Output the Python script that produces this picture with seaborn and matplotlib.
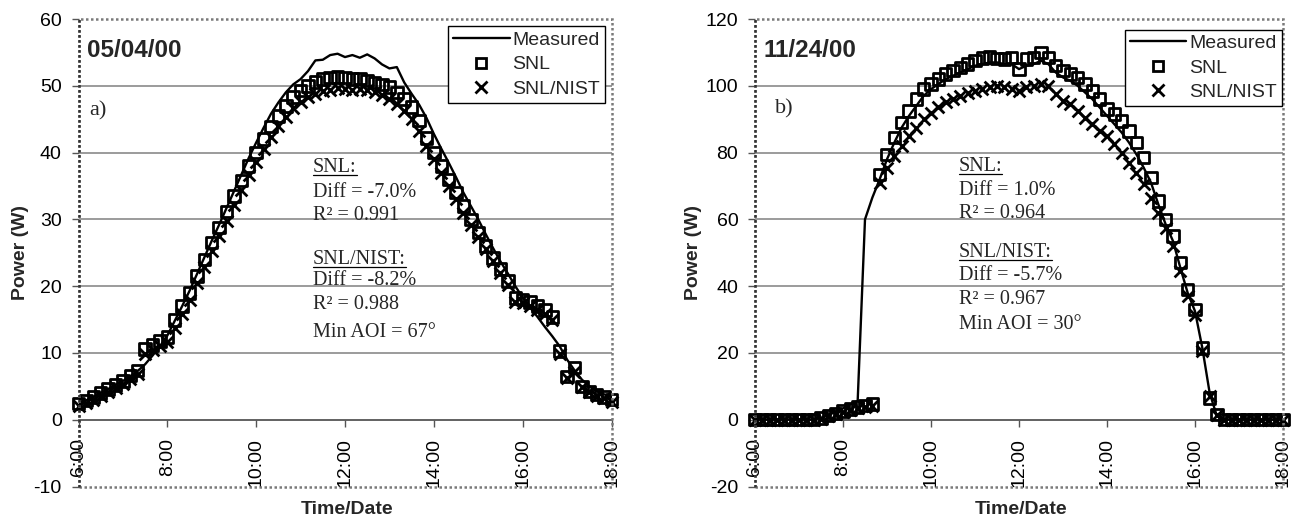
import matplotlib
matplotlib.use("Agg")
import matplotlib.pyplot as plt
import seaborn as sns
import pandas as pd
from matplotlib.lines import Line2D
from matplotlib.patches import Rectangle

# ---------------- data ----------------
times = ["6:00", "6:10", "6:20", "6:30", "6:40", "6:50",
         "7:00", "7:10", "7:20", "7:30", "7:40", "7:50",
         "8:00", "8:10", "8:20", "8:30", "8:40", "8:50",
         "9:00", "9:10", "9:20", "9:30", "9:40", "9:50",
         "10:00", "10:10", "10:20", "10:30", "10:40", "10:50",
         "11:00", "11:10", "11:20", "11:30", "11:40", "11:50",
         "12:00", "12:10", "12:20", "12:30", "12:40", "12:50",
         "13:00", "13:10", "13:20", "13:30", "13:40", "13:50",
         "14:00", "14:10", "14:20", "14:30", "14:40", "14:50",
         "15:00", "15:10", "15:20", "15:30", "15:40", "15:50",
         "16:00", "16:10", "16:20", "16:30", "16:40", "16:50",
         "17:00", "17:10", "17:20", "17:30", "17:40", "17:50",
         "18:00"]

# panel a) 05/04/00
a_measured = [2.4, 2.9, 3.4, 4.0, 4.6, 5.2,
              5.8, 6.5, 7.3, 8.3, 9.6, 11.0,
              12.6, 14.8, 17.0, 19.3, 21.8, 24.3,
              26.8, 29.2, 31.7, 34.2, 36.7, 39.2,
              41.5, 43.7, 45.8, 47.5, 49.0, 50.2,
              51.0, 52.2, 53.8, 53.9, 54.6, 54.8,
              54.3, 54.6, 54.2, 54.7, 54.1, 53.2,
              52.6, 52.8, 50.5, 48.8, 47.2, 45.2,
              42.8, 40.6, 38.5, 36.3, 34.0, 32.0,
              30.0, 27.8, 25.7, 23.7, 21.9, 20.0,
              18.3, 16.8, 15.4, 13.9, 12.5, 11.0,
              9.0, 7.4, 6.0, 5.0, 4.3, 3.8,
              3.4]
a_snl = [2.4, 2.9, 3.4, 4.0, 4.6, 5.2,
         5.8, 6.6, 7.4, 10.6, 11.2, 11.8,
         12.4, 14.9, 17.0, 19.0, 21.5, 24.0,
         26.5, 28.8, 31.2, 33.5, 35.8, 38.0,
         40.0, 42.0, 43.9, 45.5, 47.0, 48.3,
         49.3, 50.0, 50.6, 51.0, 51.2, 51.3,
         51.2, 51.0, 51.1, 50.8, 50.5, 50.2,
         49.8, 49.0, 48.0, 46.8, 44.8, 42.2,
         40.0, 38.0, 36.0, 34.0, 32.0, 30.0,
         28.0, 26.0, 24.2, 22.6, 20.8, 18.2,
         18.0, 17.6, 17.0, 16.4, 15.4, 10.3,
         6.5, 7.8, 5.0, 4.2, 3.8, 3.4,
         3.0]
a_nist = [2.0, 2.5, 3.0, 3.6, 4.2, 4.8,
          5.4, 6.1, 6.9, 9.8, 10.5, 11.1,
          11.7, 13.8, 15.9, 18.0, 20.4, 22.8,
          25.2, 27.5, 29.8, 32.1, 34.4, 36.6,
          38.6, 40.6, 42.4, 44.0, 45.4, 46.6,
          47.6, 48.3, 48.8, 49.2, 49.4, 49.6,
          49.5, 49.4, 49.5, 49.3, 49.0, 48.6,
          48.0, 47.2, 46.2, 45.0, 43.3, 41.0,
          39.0, 37.0, 35.0, 33.0, 31.0, 29.2,
          27.4, 25.5, 23.7, 22.0, 20.2, 17.6,
          17.5, 17.0, 16.5, 15.8, 15.0, 9.8,
          6.2, 7.2, 4.9, 4.1, 3.6, 3.2,
          2.7]

# panel b) 11/24/00
b_measured = [0, 0, 0, 0, 0, 0,
              0, 0, 0, 0.6, 1.5, 2.5,
              3.4, 4.6, 5.6, 60.0, 66.5, 72.0,
              78.0, 83.0, 87.5, 91.0, 94.0, 97.0,
              99.0, 100.5, 102.0, 103.0, 104.0, 105.0,
              106.0, 106.5, 107.0, 107.0, 106.5, 106.5,
              105.0, 106.0, 106.5, 107.5, 106.5, 104.0,
              102.5, 101.5, 100.0, 98.0, 96.0, 93.5,
              91.0, 88.5, 86.0, 83.0, 79.5, 75.5,
              71.0, 64.5, 58.5, 53.5, 45.5, 38.0,
              32.5, 21.5, 8.0, 1.0, 0, 0,
              0, 0, 0, 0, 0, 0,
              0]
b_snl = [0, 0, 0, 0, 0, 0,
         0, 0, 0, 0.5, 1.2, 1.9,
         2.6, 3.2, 3.8, 4.3, 4.7, 73.5,
         79.5, 84.5, 89.0, 92.5, 96.0, 99.0,
         100.5, 102.0, 103.5, 104.5, 105.5, 106.5,
         107.5, 108.3, 108.6, 108.2, 108.0, 108.5,
         105.0, 108.0, 108.5, 110.0, 108.5, 106.0,
         104.5, 103.5, 102.5, 100.5, 98.5, 96.0,
         93.0, 91.5, 89.5, 86.5, 83.0, 78.5,
         72.5, 65.5, 60.0, 55.0, 47.0, 39.0,
         33.0, 21.5, 6.5, 1.5, 0, 0,
         0, 0, 0, 0, 0, 0,
         0]
b_nist = [0, 0, 0, 0, 0, 0,
          0, 0, 0, 0.3, 1.0, 1.7,
          2.3, 2.9, 3.4, 3.8, 4.2, 71.0,
          75.5, 79.0, 82.0, 85.0, 87.5, 90.0,
          92.0, 93.5, 95.0, 96.0, 97.0, 97.8,
          98.5, 99.0, 99.5, 99.8, 99.5, 99.0,
          98.5, 99.5, 100.0, 100.5, 99.8, 97.5,
          95.5, 94.5, 92.5, 90.5, 88.5, 86.5,
          85.0, 82.5, 80.0, 77.0, 74.0, 70.5,
          66.5, 62.0, 57.5, 52.0, 44.5, 37.0,
          31.5, 20.5, 7.0, 1.5, 0, 0,
          0, 0, 0, 0, 0, 0,
          0]

xtick_labels = ["6:00", "8:00", "10:00", "12:00", "14:00", "16:00", "18:00"]
a_yticks = [-10, 0, 10, 20, 30, 40, 50, 60]
b_yticks = [-20, 0, 20, 40, 60, 80, 100, 120]

a_date, b_date = "05/04/00", "11/24/00"
a_tag, b_tag = "a)", "b)"
a_notes = ["SNL:", "Diff = -7.0%", "R\u00b2 = 0.991",
           "SNL/NIST:", "Diff = -8.2%", "R\u00b2 = 0.988", "Min AOI = 67\u00b0"]
b_notes = ["SNL:", "Diff = 1.0%", "R\u00b2 = 0.964",
           "SNL/NIST:", "Diff = -5.7%", "R\u00b2 = 0.967", "Min AOI = 30\u00b0"]
underlined = ["SNL:", "SNL/NIST:"]
series_labels = ["Measured", "SNL", "SNL/NIST"]


def to_hours(t):
    h, m = t.split(":")
    return int(h) + int(m) / 60.0


hours = [to_hours(t) for t in times]
a_df = pd.DataFrame({"hour": hours, "measured": a_measured, "snl": a_snl, "nist": a_nist})
b_df = pd.DataFrame({"hour": hours, "measured": b_measured, "snl": b_snl, "nist": b_nist})

# ---------------- style ----------------
sns.set_style("white")
plt.rcParams["font.family"] = ["Liberation Sans", "DejaVu Sans"]
SERIF = ["Liberation Serif", "DejaVu Serif"]

W, H = 1294, 529
fig = plt.figure(figsize=(W / 100, H / 100), dpi=100)
fig.patch.set_facecolor("white")

axA = fig.add_axes([78.5 / W, 1 - 486.5 / H, 533 / W, 467.5 / H])
axB = fig.add_axes([755 / W, 1 - 486.5 / H, 528 / W, 467.5 / H])

underline_texts = []


def draw_panel(ax, df, yticks, date, tag, tag_xy, notes, note_x, note_ys,
               leg_anchor, ylabel_x):
    sns.lineplot(data=df, x="hour", y="measured", ax=ax, color="black",
                 lw=1.7, legend=False, zorder=3)
    sns.scatterplot(data=df, x="hour", y="snl", ax=ax, marker="s", s=68,
                    facecolor="none", edgecolor="black", linewidth=2.0,
                    zorder=4, clip_on=False, legend=False)
    sns.scatterplot(data=df, x="hour", y="nist", ax=ax, marker="x", s=72,
                    color="black", linewidth=2.0, zorder=5, clip_on=False,
                    legend=False)

    ymin, ymax = yticks[0], yticks[-1]
    ax.set_xlim(to_hours(xtick_labels[0]), to_hours(xtick_labels[-1]))
    ax.set_ylim(ymin, ymax)

    # horizontal gridlines (interior ticks)
    grid_vals = [v for v in yticks if v not in (ymin, ymax, 0)]
    ax.hlines(grid_vals, to_hours(xtick_labels[0]), to_hours(xtick_labels[-1]),
              color="#8a8a8a", lw=1.2, zorder=1)

    # axes / border
    for s in ["top", "right", "left"]:
        ax.spines[s].set_visible(False)
    ax.spines["bottom"].set_position(("data", 0))
    ax.spines["bottom"].set_color("#555555")
    ax.spines["bottom"].set_linewidth(1.3)
    ax.spines["bottom"].set_zorder(2)
    ax.add_patch(Rectangle((0, 0), 1, 1, transform=ax.transAxes, fill=False,
                           ec="#7a7a7a", lw=1.8, ls=(0, (1, 1)), clip_on=False,
                           zorder=6))
    ax.plot([0, 0], [0, 1], transform=ax.transAxes, color="#333333", lw=1.8,
            ls=(0, (1, 1)), clip_on=False, zorder=6)

    ax.set_xticks([to_hours(t) for t in xtick_labels])
    ax.set_xticklabels(xtick_labels, rotation=90)
    ax.set_yticks(yticks)
    ax.set_yticklabels([str(v) for v in yticks])
    ax.tick_params(axis="x", bottom=True, direction="out", length=5, width=1,
                   color="#555555", pad=8, labelsize=14, labelcolor="black")
    ax.tick_params(axis="y", left=True, direction="out", length=5, width=1,
                   color="#555555", pad=7, labelsize=14, labelcolor="black")

    ax.set_xlabel("Time/Date", fontsize=14, fontweight="bold")
    ax.xaxis.set_label_coords(0.504, -0.031)
    ax.set_ylabel("Power (W)", fontsize=14, fontweight="bold")
    ax.yaxis.set_label_coords(ylabel_x, 0.5)

    ax.text(0.016, 0.919, date, transform=ax.transAxes, fontsize=17.5,
            fontweight="bold", va="baseline", ha="left", zorder=8)
    ax.text(tag_xy[0], tag_xy[1], tag, transform=ax.transAxes, fontsize=16,
            family=SERIF, va="baseline", ha="left", zorder=8)

    for txt, yy in zip(notes, note_ys):
        t = ax.text(note_x, yy, txt, transform=ax.transAxes, fontsize=14.5,
                    family=SERIF, va="baseline", ha="left", zorder=8)
        if txt in underlined:
            underline_texts.append((ax, t, note_x, yy))

    handles = [
        Line2D([], [], color="black", lw=1.7, label=series_labels[0]),
        Line2D([], [], ls="none", marker="s", mfc="none", mec="black", ms=7.5,
               mew=2.0, label=series_labels[1]),
        Line2D([], [], ls="none", marker="x", color="black", ms=8, mew=2.0,
               label=series_labels[2]),
    ]
    leg = ax.legend(handles=handles, loc="upper right", bbox_to_anchor=leg_anchor,
                    bbox_transform=ax.transAxes, fontsize=14, frameon=True,
                    fancybox=False, edgecolor="black", framealpha=1,
                    borderpad=0.25, labelspacing=0.35, handlelength=2.9,
                    handletextpad=0.15, borderaxespad=0)
    leg.get_frame().set_linewidth(1.0)
    leg.set_zorder(10)


draw_panel(axA, a_df, a_yticks, a_date, a_tag, (0.02, 0.793), a_notes, 0.44,
           [0.673, 0.620, 0.570, 0.477, 0.431, 0.379, 0.320],
           (0.988, 0.984), -0.093)
draw_panel(axB, b_df, b_yticks, b_date, b_tag, (0.038, 0.797), b_notes, 0.386,
           [0.675, 0.623, 0.574, 0.490, 0.441, 0.390, 0.337],
           (0.998, 0.977), -0.100)

# underlines for section headings
fig.canvas.draw()
for ax, t, xx, yy in underline_texts:
    bb = t.get_window_extent()
    base = ax.transAxes.transform((xx, yy))[1]
    y_line = base - 3
    p0 = fig.transFigure.inverted().transform((bb.x0, y_line))
    p1 = fig.transFigure.inverted().transform((bb.x1, y_line))
    fig.add_artist(Line2D([p0[0], p1[0]], [p0[1], p1[1]], color="black", lw=0.9,
                          transform=fig.transFigure))

fig.savefig("out.png", dpi=100, facecolor="white")
